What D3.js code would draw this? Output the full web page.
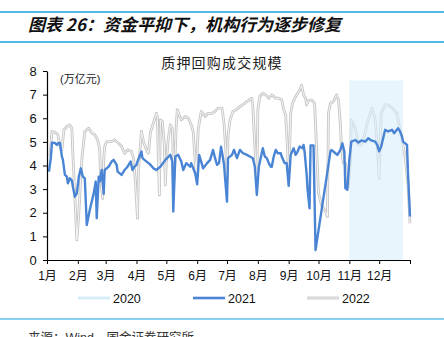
<!DOCTYPE html>
<html>
<head>
<meta charset="utf-8">
<script src="https://cdn.jsdelivr.net/npm/d3@7"></script>
<style>
  html, body { margin: 0; padding: 0; background: #fff; }
  svg { display: block; }
</style>
</head>
<body>
<svg id="chart" width="444" height="337"></svg>
<script>
// 质押回购成交规模 (万亿元), by day of year (0 = 1月1日)
const monthLabels = ["1月","2月","3月","4月","5月","6月","7月","8月","9月","10月","11月","12月"];
const yTicks = [0,1,2,3,4,5,6,7,8];
const seriesNames = ["2020", "2021", "2022"];

// 2020: highlighted window
const days2020 = [304, 358];
const values2020 = [7.6, 7.6];

// 2021
const days2021 = [2,4,5,8,10,11,13,15,16,18,20,21,23,25,26,28,30,32,34,36,38,40,43,47,49,50,52,53,55,57,58,62,65,67,70,71,75,78,81,84,86,88,90,91,95,96,98,102,104,107,110,114,119,124,126,127,129,132,135,137,140,144,145,149,151,153,157,161,164,167,169,171,173,175,177,178,181,182,186,188,191,194,197,201,204,207,209,211,213,217,219,221,223,225,226,228,230,232,235,236,239,241,243,245,248,250,252,254,257,258,259,261,262,264,265,268,270,285,286,290,292,295,297,299,300,302,304,306,310,313,316,320,323,326,330,332,334,336,340,343,347,349,351,353,355,357,358,362,363,365];
const values2021 = [3.74,4.38,4.97,4.95,4.87,4.94,4.95,4.38,4.24,3.6,3.53,3.25,3.46,3.36,3.11,2.68,2.82,3.53,3.88,3.53,3.46,1.48,2.12,2.82,3.32,1.77,3.53,3.32,3.81,2.8,3.81,3.95,4.17,4.24,4.03,3.74,3.6,3.81,3.95,4.17,3.81,3.95,4.03,4.17,4.59,4.31,4.24,4.1,4.03,3.88,3.81,3.95,4.24,4.45,4.17,2.05,4.38,4.45,4.17,3.81,4.1,3.95,4.1,3.67,3.2,4.45,3.88,4.1,4.24,4.66,4.31,4.03,4.1,4.8,4.31,4.03,2.47,4.31,4.45,4.66,4.31,4.66,4.52,4.45,4.38,4.31,3.95,2.75,3.95,4.73,4.38,4.31,4.1,3.95,3.95,4.38,4.66,4.52,4.52,4.38,4.1,4.1,3.14,4.45,4.73,4.45,4.59,4.8,4.73,4.87,4.59,3.67,3.0,2.19,4.85,4.85,0.42,4.59,4.66,4.52,4.45,4.66,4.94,4.59,3.04,2.97,4.24,5.01,5.08,4.97,5.06,5.01,5.15,5.06,5.01,4.87,4.6,4.8,5.51,5.44,5.51,5.37,5.47,5.58,5.44,5.23,5.01,4.87,3.67,1.84];

// 2022
const days2022 = [3,5,8,11,13,15,17,20,23,25,26,28,30,32,35,38,42,45,48,51,53,54,56,57,58,60,65,68,72,75,78,81,85,87,89,91,92,95,97,100,102,104,108,110,111,112,113,114,116,118,119,120,122,124,126,127,128,130,131,133,135,139,142,145,147,149,150,152,155,159,162,166,169,172,176,178,180,181,182,184,187,191,194,197,201,204,206,207,209,211,212,214,217,220,223,226,230,233,236,238,240,242,243,245,247,250,252,255,256,258,260,261,263,266,269,271,273,276,280,282,283,285,288,291,293,295,296,298,300,301,303,305,306,308,310,312,313,316,320,321,325,327,330,332,334,336,340,343,347,352,353,357,360,363,365];
const values2022 = [4.38,5.44,5.4,5.3,4.8,4.66,5.51,5.65,5.72,5.58,4.52,2.68,0.85,1.98,4.24,5.44,5.58,5.37,5.3,5.08,4.66,3.39,2.6,4.2,4.8,5.01,5.01,5.08,4.94,4.8,4.52,4.66,4.59,4.31,3.25,1.77,3.81,5.44,5.01,4.66,4.52,5.4,5.93,6.21,6.07,4.17,2.75,5.93,5.86,4.87,3.18,4.17,5.15,5.72,5.58,4.31,3.46,5.72,6.36,6.14,5.93,6.07,6.0,5.72,5.44,4.17,3.6,5.5,6.29,6.07,6.21,6.21,6.29,6.43,6.43,5.79,4.52,3.46,5.23,5.93,6.29,6.38,6.5,6.57,6.71,6.78,6.85,6.5,4.8,3.25,6.36,6.92,7.06,6.99,6.85,6.99,6.85,6.85,6.78,6.36,6.14,4.52,3.3,6.21,6.64,6.92,7.06,7.27,7.4,6.99,6.85,6.57,6.75,6.78,6.64,4.8,2.82,2.33,2.05,1.84,6.21,6.64,6.71,6.99,6.78,5.79,4.8,4.1,4.1,3.67,3.1,4.24,5.93,5.79,5.58,5.15,4.87,4.87,5.37,5.65,6.21,6.43,5.93,4.9,3.46,6.21,6.57,6.57,6.43,6.21,5.9,5.08,4.38,3.2,1.55];

const yearStart = new Date(2021, 0, 1);
const yearEnd = new Date(2022, 0, 1);
const toDate = d => d3.timeDay.offset(yearStart, d);

const svg = d3.select("#chart");
const W = 444, H = 337;
const margin = { left: 47, right: 34, top: 71, bottom: 77 };
const plotBottom = H - margin.bottom;
const plotRight = W - margin.right;

const x = d3.scaleTime().domain([yearStart, yearEnd]).range([margin.left, plotRight]);
const y = d3.scaleLinear().domain([0, 8]).range([plotBottom, margin.top]);

const cjk = "'Liberation Sans', Arial, 'Noto Sans CJK SC', sans-serif";
const rule = "#1ba1e2";

// header rules and caption
svg.append("line").attr("x1", 0).attr("x2", W).attr("y1", 12).attr("y2", 12)
  .attr("stroke", rule).attr("stroke-width", 1.4);
svg.append("line").attr("x1", 0).attr("x2", W).attr("y1", 42).attr("y2", 42)
  .attr("stroke", rule).attr("stroke-width", 1.4);
svg.append("text").attr("x", 28).attr("y", 31)
  .attr("font-family", "'Noto Sans CJK SC', sans-serif")
  .attr("font-size", 17).attr("font-weight", "bold").attr("font-style", "italic")
  .attr("fill", "#111")
  .text("图表 26：资金平抑下，机构行为逐步修复");

// footer
svg.append("line").attr("x1", 0).attr("x2", W).attr("y1", 319).attr("y2", 319)
  .attr("stroke", rule).attr("stroke-width", 1.2);
svg.append("text").attr("x", 28).attr("y", 342)
  .attr("font-family", cjk).attr("font-size", 12.5).attr("fill", "#333")
  .text("来源：Wind，国金证券研究所");

// chart title and unit
svg.append("text").attr("x", 222).attr("y", 68).attr("text-anchor", "middle")
  .attr("font-family", "'Noto Sans CJK SC', sans-serif").attr("font-size", 14)
  .attr("letter-spacing", 1.2).attr("fill", "#222")
  .text("质押回购成交规模");
svg.append("text").attr("x", 60).attr("y", 83)
  .attr("font-family", cjk).attr("font-size", 11).attr("fill", "#222")
  .text("(万亿元)");

const line = (days, vals) => d3.line()
  .x((d, i) => x(toDate(days[i])))
  .y((d, i) => y(vals[i]))(vals);

// 2022 line (hollow grey stroke)
const path2022 = line(days2022, values2022);
svg.append("path").attr("d", path2022).attr("fill", "none")
  .attr("stroke", "#c6c6c6").attr("stroke-width", 2.8).attr("stroke-linejoin", "round");
svg.append("path").attr("d", path2022).attr("fill", "none")
  .attr("stroke", "#f6f6f6").attr("stroke-width", 1).attr("stroke-linejoin", "round");

// 2020 window, laid over the grey line
svg.append("g").selectAll("rect").data([0]).join("rect")
  .attr("x", x(toDate(days2020[0])))
  .attr("width", x(toDate(days2020[1])) - x(toDate(days2020[0])))
  .attr("y", y(values2020[0]))
  .attr("height", y(0) - y(values2020[0]))
  .attr("fill", "#d9effb").attr("opacity", 0.6);

// 2021 line
svg.append("path").attr("d", line(days2021, values2021)).attr("fill", "none")
  .attr("stroke", "#4a84d4").attr("stroke-width", 2.4).attr("stroke-linejoin", "round");

// axes
const tickDates = d3.timeMonth.range(yearStart, yearEnd).concat([yearEnd]);
const xAxis = d3.axisBottom(x).tickValues(tickDates).tickSize(4).tickSizeOuter(0)
  .tickFormat((d, i) => i < monthLabels.length ? monthLabels[i] : "");
const gx = svg.append("g").attr("transform", `translate(0,${plotBottom})`).call(xAxis);
gx.select(".domain").attr("stroke", "#000").attr("stroke-width", 1.2);
gx.selectAll(".tick line").attr("stroke", "#000");
gx.selectAll(".tick text").attr("font-family", cjk).attr("font-size", 12)
  .attr("fill", "#111").attr("dy", "1.05em");

const yAxis = d3.axisLeft(y).tickValues(yTicks).tickSize(4).tickSizeOuter(0).tickFormat(d3.format("d"));
const gy = svg.append("g").attr("transform", `translate(${margin.left},0)`).call(yAxis);
gy.select(".domain").attr("stroke", "#000").attr("stroke-width", 1.2);
gy.selectAll(".tick line").attr("stroke", "#000");
gy.selectAll(".tick text").attr("font-family", cjk).attr("font-size", 13)
  .attr("fill", "#111").attr("dx", "-0.25em");

// legend
const legendX = [78, 193, 307];
const legend = svg.append("g").attr("font-family", cjk).attr("font-size", 12.5);
seriesNames.forEach((name, i) => {
  const g = legend.append("g").attr("transform", `translate(${legendX[i]},298)`);
  if (i === 0) {
    g.append("line").attr("x1", 0).attr("x2", 32).attr("stroke", "#d6edfa").attr("stroke-width", 3);
  } else if (i === 1) {
    g.append("line").attr("x1", 0).attr("x2", 32).attr("stroke", "#4a84d4").attr("stroke-width", 2.6);
  } else {
    g.append("line").attr("x1", 0).attr("x2", 32).attr("stroke", "#c6c6c6").attr("stroke-width", 2.8);
    g.append("line").attr("x1", 0).attr("x2", 32).attr("stroke", "#f0f0f0").attr("stroke-width", 1);
  }
  g.append("text").attr("x", 35).attr("y", 4.5).attr("fill", "#111").text(name);
});
</script>
</body>
</html>
